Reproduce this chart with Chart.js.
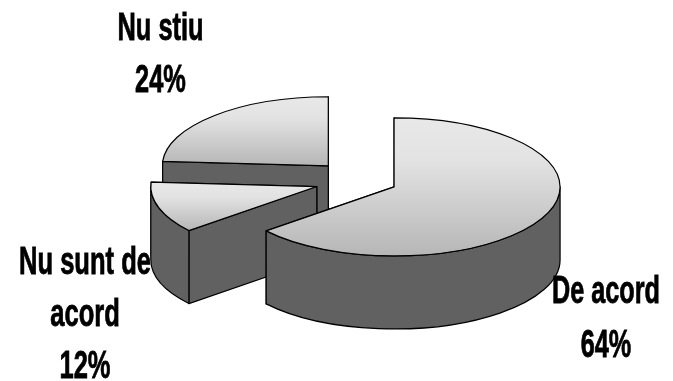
<!DOCTYPE html>
<html>
<head>
<meta charset="utf-8">
<style>
html, body { margin: 0; padding: 0; background: #fff; }
#wrap { width: 673px; height: 381px; }
</style>
<script src="https://cdn.jsdelivr.net/npm/chart.js@4"></script>
</head>
<body>
<div id="wrap"><canvas id="myChart" width="673" height="381"></canvas></div>
<script>
var categories = ['De acord', 'Nu sunt de acord', 'Nu stiu'];
var values = [64, 12, 24];
var labelLines = [['De acord'], ['Nu sunt de', 'acord'], ['Nu stiu']];

// look of the fake 3d pie
var TILT = 0.416;
var DEPTH = 73;
var RADIUS = 166;
var explode = [36, 47, 48.5];
var drawOrder = [2, 1, 0];
var SIDE = '#616161';
var FONT = 'bold 38px "Liberation Sans"';
var labelBoxes = [
    { x: 606, y: 303, width: 108, step: 54 },
    { x: 85, y: 274, width: 132, step: 52 },
    { x: 160.5, y: 40, width: 86, step: 52 }
];

function sliceGradient(c) {
    var area = c.chart.chartArea;
    if (!area || c.dataIndex === undefined) {
        return '#cccccc';
    }
    var total = values.reduce(function (a, b) { return a + b; }, 0);
    var before = 0;
    for (var i = 0; i < c.dataIndex; i++) {
        before += values[i];
    }
    var a0 = -Math.PI / 2 + before / total * Math.PI * 2;
    var a1 = a0 + values[c.dataIndex] / total * Math.PI * 2;
    var lo = Math.min(0, Math.sin(a0), Math.sin(a1));
    var hi = Math.max(0, Math.sin(a0), Math.sin(a1));
    if (a0 < Math.PI / 2 && a1 > Math.PI / 2) {
        hi = 1;
    }
    if (a0 <= -Math.PI / 2) {
        lo = -1;
    }
    var cy = (area.top + area.bottom) / 2;
    var g = c.chart.ctx.createLinearGradient(0, cy + lo * RADIUS, 0, cy + hi * RADIUS);
    g.addColorStop(0, '#e8e8e8');
    g.addColorStop(0.3, '#e3e3e3');
    g.addColorStop(1, '#b6b6b6');
    return g;
}

function sliceCenter(arc, i) {
    var mid = (arc.startAngle + arc.endAngle) / 2;
    return {
        x: arc.x + Math.cos(mid) * explode[i],
        y: arc.y + Math.sin(mid) * explode[i] * TILT
    };
}

function paint(ctx, fill) {
    ctx.fillStyle = fill;
    ctx.fill();
    ctx.stroke();
}

function drawSides(ctx, arc, c) {
    var r = arc.outerRadius;
    var ry = r * TILT;
    var ends = [arc.startAngle, arc.endAngle].sort(function (a, b) {
        return Math.sin(a) - Math.sin(b);
    });
    ends.forEach(function (a) {
        var ex = c.x + Math.cos(a) * r;
        var ey = c.y + Math.sin(a) * ry;
        ctx.beginPath();
        ctx.moveTo(c.x, c.y);
        ctx.lineTo(ex, ey);
        ctx.lineTo(ex, ey + DEPTH);
        ctx.lineTo(c.x, c.y + DEPTH);
        ctx.closePath();
        paint(ctx, SIDE);
    });
    // only the front half of the rim can be seen
    var from = Math.max(arc.startAngle, 0);
    var to = Math.min(arc.endAngle, Math.PI);
    if (to > from) {
        ctx.beginPath();
        ctx.ellipse(c.x, c.y, r, ry, 0, from, to);
        ctx.ellipse(c.x, c.y + DEPTH, r, ry, 0, to, from, true);
        ctx.closePath();
        paint(ctx, SIDE);
    }
}

function drawTop(ctx, arc, c) {
    ctx.save();
    ctx.translate(c.x, c.y);
    ctx.scale(1, TILT);
    ctx.translate(-arc.x, -arc.y);
    arc.draw(ctx);
    ctx.restore();
    ctx.beginPath();
    ctx.moveTo(c.x, c.y);
    ctx.ellipse(c.x, c.y, arc.outerRadius, arc.outerRadius * TILT, 0, arc.startAngle, arc.endAngle);
    ctx.closePath();
    ctx.stroke();
}

var pie3d = {
    id: 'pie3d',
    beforeDatasetDraw: function (chart, args) {
        var ctx = chart.ctx;
        var arcs = args.meta.data;
        ctx.save();
        ctx.strokeStyle = '#000';
        ctx.lineWidth = 1.2;
        ctx.lineJoin = 'round';
        drawOrder.forEach(function (i) {
            var c = sliceCenter(arcs[i], i);
            drawSides(ctx, arcs[i], c);
            drawTop(ctx, arcs[i], c);
        });
        ctx.restore();
        return false;
    },
    afterDraw: function (chart) {
        var ctx = chart.ctx;
        ctx.save();
        ctx.font = FONT;
        ctx.fillStyle = '#000';
        ctx.strokeStyle = '#000';
        ctx.lineWidth = 0.8;
        ctx.textAlign = 'center';
        categories.forEach(function (name, i) {
            var box = labelBoxes[i];
            var lines = labelLines[i].concat(values[i] + '%');
            lines.forEach(function (text, k) {
                var w = ctx.measureText(text).width * box.width / ctx.measureText(lines[0]).width;
                ctx.fillText(text, box.x, box.y + k * box.step, w);
                ctx.strokeText(text, box.x, box.y + k * box.step, w);
            });
        });
        ctx.restore();
    }
};

new Chart(document.getElementById('myChart').getContext('2d'), {
    type: 'pie',
    data: {
        labels: categories,
        datasets: [{
            data: values,
            backgroundColor: sliceGradient,
            borderWidth: 0
        }]
    },
    options: {
        responsive: false,
        animation: false,
        radius: RADIUS,
        layout: { padding: { left: 50, bottom: 20 } },
        plugins: { legend: { display: false }, tooltip: { enabled: false } }
    },
    plugins: [pie3d]
});
</script>
</body>
</html>
